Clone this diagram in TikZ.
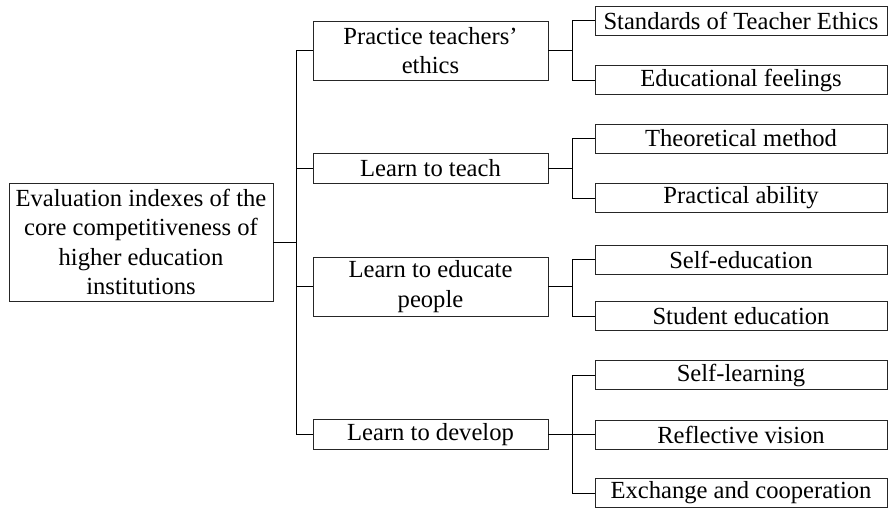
\documentclass[tikz,border=0pt]{standalone}
\usepackage{fontspec}
\setmainfont{Liberation Serif}
\usetikzlibrary{positioning}

\begin{document}
\begin{tikzpicture}[x = 1pt, y = -1pt, % y grows downwards
                line width = 0.8pt, % line style
                font = \fontsize{24.6}{29.5}\selectfont
            ]

            \tikzstyle{every node}=[draw = black!85, rectangle, inner sep = 0pt,
            align = center]
            \tikzstyle{root}=[minimum width = 264, minimum height = 118]
            \tikzstyle{mid}=[minimum width = 235, minimum height = 30]
            \tikzstyle{leaf}=[minimum width = 292, minimum height = 29]

            \useasboundingbox (0,0) rectangle (889,509);

            % root and first level
            \node[root] (0) at (141,242) {Evaluation indexes of the\\
                core competitiveness of\\ higher education\\ institutions};
            \node[mid, minimum height = 59] (1) at (430.5,50.5)
                {Practice teachers'\\ ethics};
            \node[mid] (2) at (430.5,168) {Learn to teach};
            \node[mid, minimum height = 59] (3) at (430.5,286.5)
                {Learn to educate\\ people};
            \node[mid] (4) at (430.5,434.5) {Learn to develop};

            % second level
            \node[leaf] (11) at (741,20.5) {Standards of Teacher Ethics};
            \node[leaf] (12) at (741,80) {Educational feelings};
            \node[leaf] (21) at (741,138.5) {Theoretical method};
            \node[leaf] (22) at (741,198) {Practical ability};
            \node[leaf] (31) at (741,259.5) {Self-education};
            \node[leaf] (32) at (741,316) {Student education};
            \node[leaf] (41) at (741,375) {Self-learning};
            \node[leaf] (42) at (741,434.5) {Reflective vision};
            \node[leaf] (43) at (741,493) {Exchange and cooperation};

            % branch points
            \coordinate (t0) at (296,242);
            \coordinate (t1) at (572,50.5); \coordinate (t2) at (572,168);
            \coordinate (t3) at (572,286.5); \coordinate (t4) at (572,434.5);

            \draw (0) -- (t0);
            \foreach \i in {1,...,4} {\draw (t0) |- (\i.west);
                \draw (\i) -- (t\i);}
            \foreach \i/\j in {1/11, 1/12, 2/21, 2/22, 3/31, 3/32, 4/41, 4/42,
                4/43} {\draw (t\i) |- (\j.west);}
            \end{tikzpicture}
\end{document}
